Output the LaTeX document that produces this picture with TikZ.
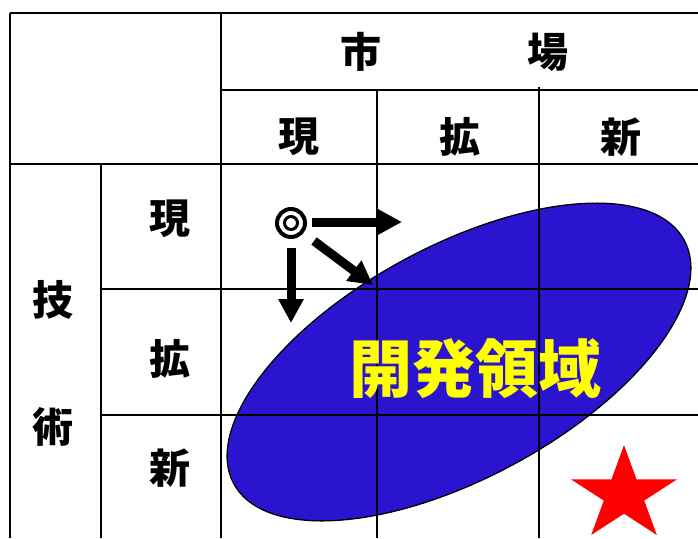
\documentclass[tikz,border=0pt]{standalone}
\usepackage{fontspec}
\newfontfamily\jp{Noto Sans CJK JP}
\usetikzlibrary{arrows.meta,shapes.geometric}
\definecolor{areablue}{RGB}{42,20,208}
\definecolor{areayellow}{RGB}{255,255,0}
\begin{document}
\begin{tikzpicture}[x=1pt,y=-1pt,
  grid/.style={line width=1.4pt},
  thin grid/.style={line width=1.1pt},
  lbl/.style={font=\jp\bfseries\fontsize{41pt}{41pt}\selectfont, inner sep=0},
  arr/.style={line width=9pt,-{Triangle[length=24pt,width=24pt]}}]
\useasboundingbox (0,0) rectangle (698,538);
% development area
\node[ellipse, draw, line width=1.3pt, fill=areablue, minimum width=512pt,
      minimum height=232pt, inner sep=0, rotate=28.4] (area) at (459,362) {};
% table grid
\draw[grid] (10,13) -- (698,13);
\draw[grid] (10,13) -- (10,538);
\draw[grid] (221,13) -- (221,538);
\draw[grid] (221,90) -- (698,90);
\draw[thin grid] (377,90) -- (377,538);
\draw[thin grid] (539,87) -- (539,538);
\draw[grid] (10,164) -- (698,164);
\draw[grid] (101,164) -- (101,538);
\draw[grid] (101,289) -- (698,289);
\draw[grid] (101,415) -- (698,415);
% header labels
\node[lbl] (mkt1) at (361,52) {市};
\node[lbl] (mkt2) at (548,52) {場};
\node[lbl] (c1) at (299,137) {現};
\node[lbl] (c2) at (460,137) {拡};
\node[lbl] (c3) at (621,137) {新};
\node[lbl] (r1) at (170,219) {現};
\node[lbl] (r2) at (170,359) {拡};
\node[lbl] (r3) at (170,468) {新};
\node[lbl] (tech1) at (53,300) {技};
\node[lbl] (tech2) at (53,427) {術};
% origin and arrows
\node[circle, draw, line width=4pt, minimum size=28pt, inner sep=0] (origin) at (291,223) {};
\draw[line width=3pt] (origin.center) circle[radius=6.5pt];
\coordinate (rs) at (312,222);
\coordinate (re) at (402,222);
\coordinate (ds) at (291,248);
\coordinate (de) at (291,323);
\coordinate (gs) at (314,241);
\coordinate (ge) at (373,285);
\draw[arr] (rs) -- (re);
\draw[arr] (ds) -- (de);
\draw[arr] (gs) -- (ge);
% star
\begin{scope}[shift={(624,494.7)}, xscale=55.7, yscale=-49.7]
\fill[red] (0,1) -- (-0.2245,0.309) -- (-0.951,0.309) -- (-0.3633,-0.118)
  -- (-0.5878,-0.809) -- (0,-0.382) -- (0.5878,-0.809) -- (0.3633,-0.118)
  -- (0.951,0.309) -- (0.2245,0.309) -- cycle;
\end{scope}
% area label
\node[font=\jp\bfseries\fontsize{63pt}{63pt}\selectfont, text=areayellow, inner sep=0] (arealbl) at (475,369) {開発領域};
\end{tikzpicture}
\end{document}
